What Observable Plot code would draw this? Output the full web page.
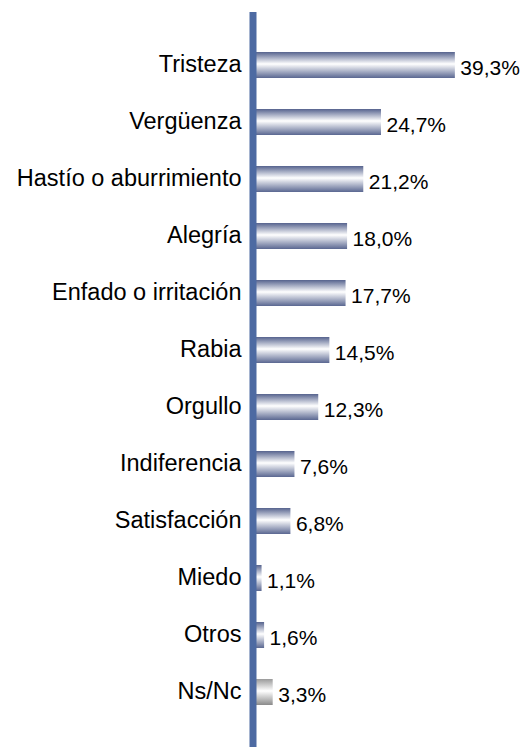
<!DOCTYPE html>
<html>
<head>
<meta charset="utf-8">
<script src="https://cdn.jsdelivr.net/npm/d3@7"></script>
<script src="https://cdn.jsdelivr.net/npm/@observablehq/plot@0.6"></script>
<style>
  html, body { margin: 0; padding: 0; background: #fff; }
  #chart svg { display: block; }
</style>
</head>
<body>
<div id="chart"></div>
<script>
const categories = ["Tristeza", "Vergüenza", "Hastío o aburrimiento", "Alegría", "Enfado o irritación", "Rabia", "Orgullo", "Indiferencia", "Satisfacción", "Miedo", "Otros", "Ns/Nc"];
const values = [39.3, 24.7, 21.2, 18.0, 17.7, 14.5, 12.3, 7.6, 6.8, 1.1, 1.6, 3.3];
const valueLabels = ["39,3%", "24,7%", "21,2%", "18,0%", "17,7%", "14,5%", "12,3%", "7,6%", "6,8%", "1,1%", "1,6%", "3,3%"];

const rows = categories.map((c, i) => ({cat: c, value: values[i], label: valueLabels[i], fill: c === "Ns/Nc" ? "url(#gGray)" : "url(#gBlue)"}));

const chart = Plot.plot({
  width: 523,
  height: 747,
  marginLeft: 256,
  marginRight: 14,
  marginTop: 33,
  marginBottom: 23,
  style: {fontFamily: "'Liberation Sans', Arial, sans-serif", background: "#fff"},
  x: {domain: [0, 50], axis: null},
  y: {domain: categories, axis: null, paddingInner: 0.55, paddingOuter: 0.275},
  color: {type: "identity"},
  marks: [
    Plot.barX(rows, {x: "value", y: "cat", fill: "fill"}),
    Plot.text(rows, {x: 0, y: "cat", text: "cat", textAnchor: "end", dx: -15, dy: -1, fontSize: 23.5, fill: "#000"}),
    Plot.text(rows, {x: "value", y: "cat", text: "label", textAnchor: "start", dx: 5, dy: 3, fontSize: 21, fill: "#000"}),
    Plot.ruleX([0], {stroke: "#4d6aa2", strokeWidth: 7, dx: -3.5, insetTop: -21, insetBottom: -23})
  ]
});

const ns = "http://www.w3.org/2000/svg";
const defs = document.createElementNS(ns, "defs");
function grad(id, stops) {
  const g = document.createElementNS(ns, "linearGradient");
  g.setAttribute("id", id);
  g.setAttribute("x1", "0"); g.setAttribute("y1", "0");
  g.setAttribute("x2", "0"); g.setAttribute("y2", "1");
  for (const [o, c] of stops) {
    const s = document.createElementNS(ns, "stop");
    s.setAttribute("offset", o);
    s.setAttribute("stop-color", c);
    g.appendChild(s);
  }
  defs.appendChild(g);
}
grad("gBlue", [[0, "#56638e"], [0.46, "#ffffff"], [1, "#5a6791"]]);
grad("gGray", [[0, "#9a9a9a"], [0.46, "#ffffff"], [1, "#8a8a8a"]]);
chart.insertBefore(defs, chart.firstChild);
document.getElementById("chart").appendChild(chart);
</script>
</body>
</html>
